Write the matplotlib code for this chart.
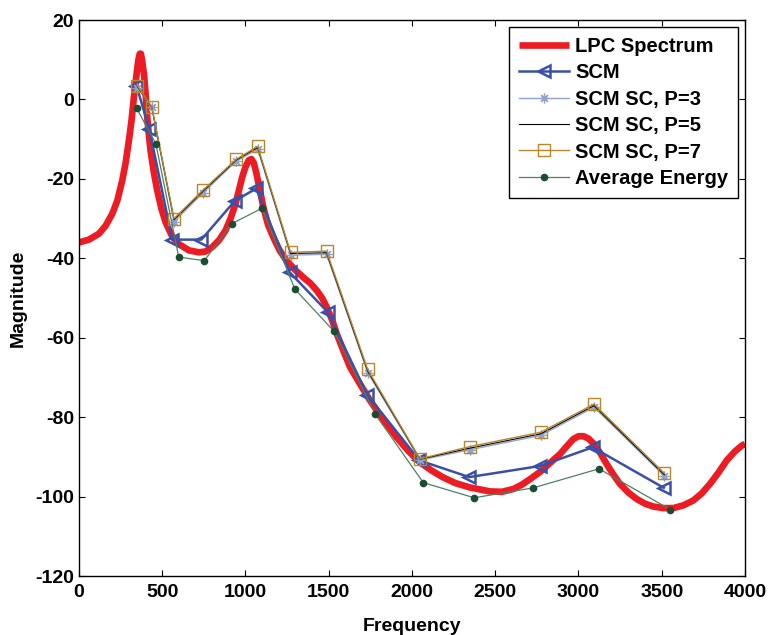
import numpy as np
import matplotlib
matplotlib.use('Agg')
import matplotlib.pyplot as plt

plt.rcParams['font.family'] = ['Liberation Sans', 'DejaVu Sans']
plt.rcParams['font.weight'] = 'bold'
plt.rcParams['axes.unicode_minus'] = False

# LPC spectrum
lpc_f = [0, 60, 120, 160, 200, 230, 260, 280, 300, 315, 330, 345, 356, 365, 372, 380,
         390, 400, 410, 420, 430, 450, 470, 495, 520, 560, 600, 660, 720, 760, 800, 840,
         880, 910, 940, 960, 980, 1000, 1020, 1035, 1050, 1065, 1085, 1107, 1135, 1167,
         1205, 1247, 1300, 1347, 1390, 1428, 1460, 1488, 1520, 1548, 1590, 1628, 1690,
         1748, 1830, 1908, 1980, 2048, 2120, 2184, 2260, 2348, 2468, 2540, 2608, 2660,
         2709, 2769, 2830, 2889, 2930, 2969, 3000, 3030, 3060, 3089, 3130, 3169, 3210,
         3249, 3300, 3349, 3400, 3449, 3510, 3570, 3630, 3689, 3740, 3790, 3840, 3890,
         3940, 3980, 4000]
lpc_v = [-36, -35.3, -33.8, -31.8, -28.8, -25.5, -20.4, -16, -10.3, -5.5, 0.6, 6, 9.8,
         11.5, 11.5, 9.5, 6.5, 1.5, -4.5, -9, -12.9, -18.5, -22.9, -27.5, -30.9, -34.5,
         -36.4, -38, -38.5, -38.3, -37.2, -35.5, -33, -30, -26.3, -23, -19.6, -17, -15.3,
         -15, -16, -18.5, -22.5, -27.1, -31.5, -34.7, -38, -40.6, -43, -44.8, -46.3,
         -48.1, -50, -52.3, -55.5, -59, -63.5, -67.4, -71.8, -75.8, -80.8, -85.1, -88.6,
         -91.4, -93.5, -95.1, -96.6, -97.7, -98.7, -98.8, -98.1, -97, -95.6, -93.8, -91.5,
         -89.3, -87.3, -85.5, -84.8, -84.8, -85.4, -86.6, -89, -91.8, -94.5, -96.8, -99,
         -100.6, -101.8, -102.5, -102.9, -102.9, -102.2, -101, -99.2, -96.8, -94, -90.9,
         -88.6, -87.2, -86.7]

# SCM
scm_f = [345, 422, 560, 735, 935, 1065, 1265, 1495, 1730, 2045, 2344, 2769, 3085, 3512]
scm_v = [3.5, -7.4, -35.3, -35.3, -25.6, -22.4, -43.5, -53.6, -74.3, -90.9, -95.1, -92.3,
         -87.6, -97.8]

# SCM SC
sc_f = [350, 437, 571, 743, 943, 1073, 1271, 1487, 1734, 2048, 2348, 2773, 3093, 3515]
p3_v = [3.0, -2.0, -30.8, -23.6, -15.6, -12.5, -39.2, -39.0, -68.8, -90.8, -88.2, -84.6,
        -77.5, -94.8]
p5_v = [3.3, -1.9, -30.3, -23.2, -15.3, -12.1, -38.8, -38.6, -68.4, -90.6, -87.8, -84.2,
        -77.1, -94.5]
p7_v = [3.5, -1.8, -30.0, -22.9, -15.1, -11.8, -38.5, -38.2, -68.0, -90.5, -87.4, -83.8,
        -76.7, -94.1]

# Average energy
ae_f = [346, 462, 599, 753, 917, 1099, 1297, 1532, 1780, 2068, 2374, 2729, 3123, 3552]
ae_v = [-2.2, -11.2, -39.7, -40.6, -31.3, -27.4, -47.8, -58.4, -79.3, -96.5, -100.3,
        -97.8, -93.0, -103.3]

fig = plt.figure(figsize=(7.69, 6.35), dpi=100)
ax = fig.add_axes([0.1027, 0.0929, 0.8661, 0.8756])

ax.plot(lpc_f, lpc_v, color='#ED1C24', lw=4.8, label='LPC Spectrum',
        solid_joinstyle='round', solid_capstyle='butt')
ax.plot(scm_f, scm_v, color='#3A50A8', lw=1.8, marker='<', ms=9, mfc='none', mew=1.8,
        label='SCM')
ax.plot(sc_f, p3_v, color='#8FA2D0', lw=1.0, marker=(8, 2, 0), ms=7, mew=0.9,
        label='SCM SC, P=3')
ax.plot(sc_f, p5_v, color='black', lw=0.8, label='SCM SC, P=5')
ax.plot(sc_f, p7_v, color='#B8862B', lw=1.0, marker='s', ms=8, mfc='none', mew=1.0,
        label='SCM SC, P=7')
ax.plot(ae_f, ae_v, color='#4E8062', lw=0.9, marker='o', ms=4.5, mfc='#1B4D33',
        mec='#1B4D33', label='Average Energy')

ax.set_xlim(0, 4000)
ax.set_ylim(-120, 20)
ax.set_xticks(np.arange(0, 4001, 500))
ax.set_yticks(np.arange(-120, 21, 20))
ax.tick_params(direction='in', top=True, right=True, length=4, labelsize=14, width=0.8)
ax.tick_params(axis='x', pad=6)
for lab in ax.get_xticklabels() + ax.get_yticklabels():
    lab.set_fontweight('bold')
for s in ax.spines.values():
    s.set_linewidth(1.0)

ax.set_xlabel('Frequency', fontsize=14, fontweight='bold', labelpad=12)
ax.set_ylabel('Magnitude', fontsize=14, fontweight='bold', labelpad=6)

leg = ax.legend(loc='upper right', fontsize=14.5, frameon=True, fancybox=False,
                edgecolor='black', framealpha=1, handlelength=2.5, labelspacing=0.37,
                borderaxespad=0.35, handletextpad=0.3, borderpad=0.48)
leg.get_frame().set_linewidth(1.0)
for t in leg.get_texts():
    t.set_fontweight('bold')

fig.savefig('out.png', dpi=100)
